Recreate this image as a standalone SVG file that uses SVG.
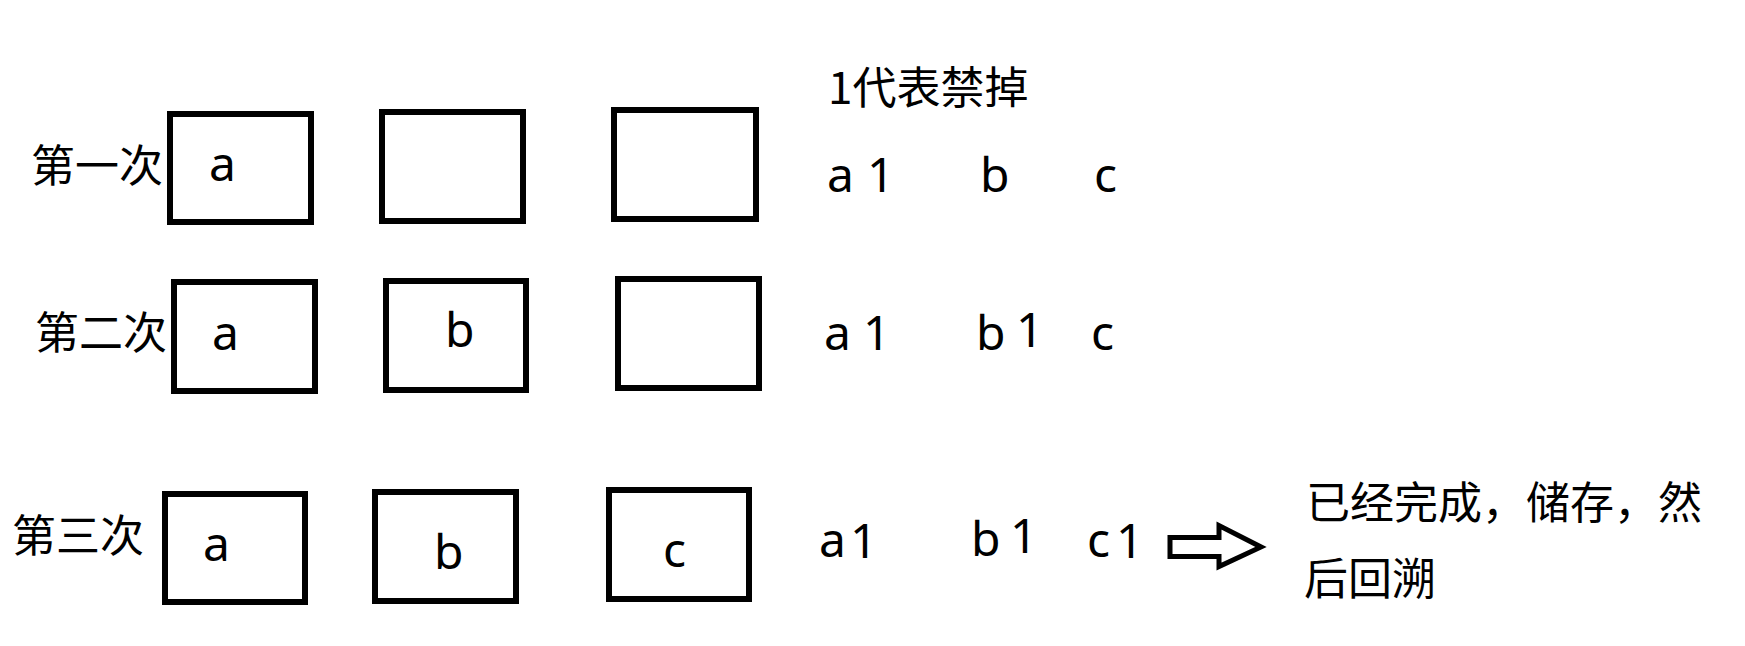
<svg xmlns="http://www.w3.org/2000/svg" width="1745" height="646" viewBox="0 0 1745 646">
  <style>
    .box { fill: #ffffff; stroke: #000000; stroke-width: 6; }
    .cjk { font-family: "Noto Sans CJK SC", sans-serif; font-size: 44px; fill: #000000; }
    .lat { font-family: "Noto Sans", "Liberation Sans", sans-serif; font-size: 48px; fill: #000000; }
    .arrow { fill: #ffffff; stroke: #000000; stroke-width: 5; stroke-linejoin: miter; }
  </style>
  <rect x="0" y="0" width="1745" height="646" fill="#ffffff"/>

  <!-- Row labels -->
  <g id="label-row1"><text class="cjk" x="31" y="182">第一次</text></g>
  <g id="label-row2"><text class="cjk" x="35" y="349">第二次</text></g>
  <g id="label-row3"><text class="cjk" x="12" y="552">第三次</text></g>

  <!-- Row 1 boxes -->
  <g id="r1-box1"><rect class="box" x="170" y="114" width="141" height="108"/><text class="lat" x="209" y="181">a</text></g>
  <g id="r1-box2"><rect class="box" x="382" y="112" width="141" height="109"/></g>
  <g id="r1-box3"><rect class="box" x="614" y="110" width="142" height="109"/></g>

  <!-- Row 2 boxes -->
  <g id="r2-box1"><rect class="box" x="174" y="282" width="141" height="109"/><text class="lat" x="212" y="350">a</text></g>
  <g id="r2-box2"><rect class="box" x="386" y="281" width="140" height="109"/><text class="lat" x="445" y="347">b</text></g>
  <g id="r2-box3"><rect class="box" x="618" y="279" width="141" height="109"/></g>

  <!-- Row 3 boxes -->
  <g id="r3-box1"><rect class="box" x="165" y="494" width="140" height="108"/><text class="lat" x="203" y="561">a</text></g>
  <g id="r3-box2"><rect class="box" x="375" y="492" width="141" height="109"/><text class="lat" x="434" y="569">b</text></g>
  <g id="r3-box3"><rect class="box" x="609" y="490" width="140" height="109"/><text class="lat" x="663" y="567">c</text></g>

  <!-- Legend -->
  <g id="legend"><text class="cjk" x="828" y="104">1代表禁掉</text></g>

  <!-- Status row 1 -->
  <g id="status-row1">
    <text class="lat" x="827" y="192">a</text>
    <text class="lat" x="867" y="192">1</text>
    <text class="lat" x="980" y="192">b</text>
    <text class="lat" x="1094" y="192">c</text>
  </g>
  <!-- Status row 2 -->
  <g id="status-row2">
    <text class="lat" x="824" y="350">a</text>
    <text class="lat" x="863" y="350">1</text>
    <text class="lat" x="976" y="350">b</text>
    <text class="lat" x="1016" y="347">1</text>
    <text class="lat" x="1091" y="350">c</text>
  </g>
  <!-- Status row 3 -->
  <g id="status-row3">
    <text class="lat" x="819" y="557">a</text>
    <text class="lat" x="850" y="558">1</text>
    <text class="lat" x="971" y="556">b</text>
    <text class="lat" x="1010" y="553">1</text>
    <text class="lat" x="1087" y="557">c</text>
    <text class="lat" x="1116" y="558">1</text>
  </g>

  <!-- Connector -->
  <g id="connectors">
    <polygon class="arrow" points="1170,537.5 1219,537.5 1219,525.5 1261,547 1219,566.5 1219,556.5 1170,556.5"/>
  </g>

  <!-- Result note -->
  <g id="note">
    <text class="cjk" x="1306" y="519">已经完成，储存，然</text>
    <text class="cjk" x="1304" y="595">后回溯</text>
  </g>
</svg>
